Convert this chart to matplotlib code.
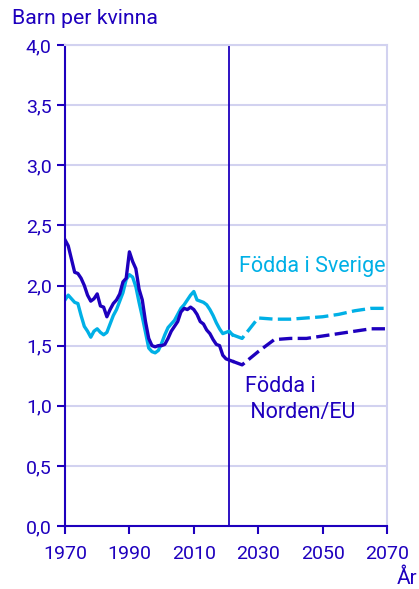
import matplotlib
matplotlib.use("Agg")
import matplotlib.pyplot as plt

plt.rcParams["font.family"] = ["Roboto", "DejaVu Sans"]

DARK = "#1e00be"
LIGHT = "#00b0e6"
GRID = "#d2d2f0"

years = list(range(1970, 2023))
norden_eu = [
    2.38, 2.33, 2.22, 2.11, 2.10, 2.06, 2.00, 1.92, 1.87, 1.89,
    1.93, 1.83, 1.82, 1.74, 1.80, 1.85, 1.88, 1.93, 2.03, 2.06,
    2.28, 2.20, 2.14, 1.97, 1.88, 1.70, 1.56, 1.50, 1.49, 1.50,
    1.50, 1.51, 1.56, 1.62, 1.66, 1.70, 1.78, 1.81, 1.80, 1.82,
    1.80, 1.76, 1.70, 1.68, 1.63, 1.60, 1.55, 1.51, 1.50, 1.42,
    1.39, 1.38, 1.37,
]
sverige = [
    1.88, 1.92, 1.89, 1.86, 1.85, 1.75, 1.66, 1.62, 1.57, 1.62,
    1.64, 1.61, 1.59, 1.61, 1.68, 1.75, 1.80, 1.87, 1.94, 2.05,
    2.09, 2.07, 1.99, 1.86, 1.74, 1.61, 1.48, 1.45, 1.44, 1.46,
    1.52, 1.59, 1.65, 1.68, 1.71, 1.76, 1.81, 1.84, 1.88, 1.92,
    1.95, 1.88, 1.87, 1.86, 1.84, 1.80, 1.75, 1.69, 1.64, 1.60,
    1.61, 1.62, 1.59,
]

proj_years = [2022, 2025, 2030, 2035, 2040, 2045, 2050, 2055, 2060, 2065, 2070]
proj_sverige = [1.59, 1.56, 1.73, 1.72, 1.72, 1.73, 1.74, 1.76, 1.79, 1.81, 1.81]
proj_norden_eu = [1.37, 1.34, 1.45, 1.55, 1.56, 1.56, 1.58, 1.60, 1.62, 1.64, 1.64]

fig = plt.figure(figsize=(4.19, 5.89), dpi=100)
ax = fig.add_axes([65 / 419, (589 - 526) / 589, (387 - 65) / 419, (526 - 45) / 589])

ax.set_xlim(1970, 2070)
ax.set_ylim(0, 4)
ax.set_yticks([0, 0.5, 1, 1.5, 2, 2.5, 3, 3.5, 4])
ax.set_yticklabels(["0,0", "0,5", "1,0", "1,5", "2,0", "2,5", "3,0", "3,5", "4,0"])
ax.set_xticks([1970, 1990, 2010, 2030, 2050, 2070])

ax.grid(axis="y", color=GRID, lw=1.5)
ax.set_axisbelow(True)
for side in ["top", "right"]:
    ax.spines[side].set_color(GRID)
    ax.spines[side].set_linewidth(1.5)
for side in ["left", "bottom"]:
    ax.spines[side].set_color(DARK)
    ax.spines[side].set_linewidth(1.5)
ax.tick_params(colors=DARK, labelsize=14, length=6, width=1.5, direction="out")
ax.tick_params(axis="x", pad=8)

ax.axvline(2021, color=DARK, lw=1.3)

ax.plot(years, sverige, color=LIGHT, lw=2.4, solid_joinstyle="round")
ax.plot(years, norden_eu, color=DARK, lw=2.4, solid_joinstyle="round")
ax.plot(proj_years, proj_sverige, color=LIGHT, lw=2.4, dashes=(4, 1.6))
ax.plot(proj_years, proj_norden_eu, color=DARK, lw=2.4, dashes=(4, 1.6))

ax.text(2024, 2.16, "Födda i Sverige", color=LIGHT, fontsize=15.5, va="center")
ax.text(2025.8, 1.05, "Födda i\n Norden/EU", color=DARK, fontsize=15.5,
        va="center", linespacing=1.3)

fig.text(12 / 419, 1 - 18 / 589, "Barn per kvinna", color=DARK, fontsize=15.3,
         va="center")
fig.text(397 / 419, 1 - 578 / 589, "År", color=DARK, fontsize=15, va="center")

fig.savefig("out.png", dpi=100)
